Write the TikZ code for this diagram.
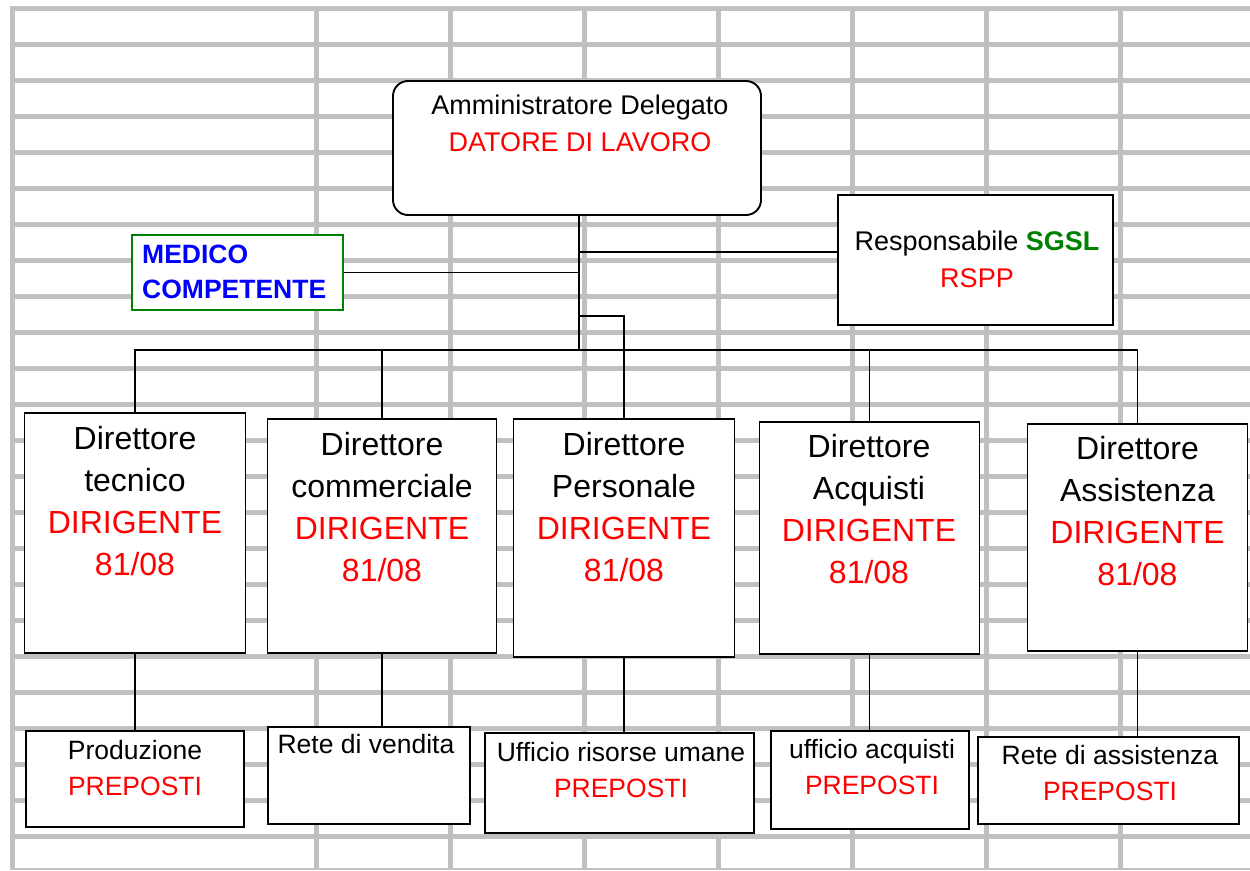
\documentclass[tikz,border=0pt]{standalone}
\usepackage{fontspec}
\setmainfont{Liberation Sans}
\definecolor{gridgray}{RGB}{192,192,192}
\definecolor{sgreen}{RGB}{0,128,0}
\definecolor{sred}{RGB}{255,0,0}
\definecolor{sblue}{RGB}{0,0,255}
\begin{document}
\begin{tikzpicture}[x=1pt,y=-1pt,
  gridline/.style={draw=gridgray,line width=5pt},
  box/.style={draw=black,line width=1.9pt,fill=white,inner sep=0pt},
  conn/.style={draw=black,line width=1.8pt},
  trunkline/.style={draw=black,line width=2.4pt},
  dirtext/.style={anchor=base,align=center,inner sep=0pt,font=\fontsize{32}{42}\selectfont},
  midtext/.style={anchor=base,align=center,inner sep=0pt,font=\fontsize{27}{36.5}\selectfont},
  subtext/.style={anchor=base,align=center,inner sep=0pt,font=\fontsize{26.5}{36}\selectfont}]
\useasboundingbox (0,0) rectangle (1250,870);
% spreadsheet grid
\foreach \y in {8,44,...,836} \draw[gridline] (10,\y) -- (1250,\y);
\draw[draw=gridgray,line width=2.5pt] (10,869) -- (1250,869);
\foreach \x in {12,316,450,584,718,852,986,1120} \draw[gridline] (\x,6) -- (\x,870);
% boxes
\node[box,rounded corners=15pt,minimum width=368pt,minimum height=134pt] (top) at (577,148) {};
\node[box,draw=sgreen,minimum width=211pt,minimum height=75pt] (med) at (237.5,272.5) {};
\node[box,minimum width=275pt,minimum height=130pt] (rspp) at (975.5,260) {};
\node[box,minimum width=221pt,minimum height=240pt] (tec) at (135,533) {};
\node[box,minimum width=229pt,minimum height=234pt] (com) at (382,536) {};
\node[box,minimum width=221pt,minimum height=238pt] (per) at (624,538) {};
\node[box,minimum width=220pt,minimum height=232pt] (acq) at (869.5,538) {};
\node[box,minimum width=220pt,minimum height=227pt] (ass) at (1137.5,537.5) {};
\node[box,minimum width=218pt,minimum height=96pt] (pro) at (135,779) {};
\node[box,minimum width=202pt,minimum height=97pt] (ven) at (369,775.5) {};
\node[box,minimum width=269pt,minimum height=100pt] (ris) at (619.5,783) {};
\node[box,minimum width=198pt,minimum height=98pt] (uac) at (870,780) {};
\node[box,minimum width=261pt,minimum height=87pt] (ras) at (1108.5,780.5) {};
% texts (anchor = baseline of the last line)
\node[midtext] (topT) at (580,151) {Amministratore Delegato\\\textcolor{sred}{DATORE DI LAVORO}};
\node[midtext] (rsppT) at (977,287) {Responsabile \textcolor{sgreen}{\bfseries SGSL}\\\textcolor{sred}{RSPP}};
\node[anchor=base west,align=left,inner sep=0pt,text=sblue,font=\fontsize{26.5}{35}\selectfont\bfseries] (medT) at (142,298) {MEDICO\\COMPETENTE};
\node[dirtext] (tecT) at (135,575) {Direttore\\tecnico\\\textcolor{sred}{DIRIGENTE}\\\textcolor{sred}{81/08}};
\node[dirtext] (comT) at (382,581) {Direttore\\commerciale\\\textcolor{sred}{DIRIGENTE}\\\textcolor{sred}{81/08}};
\node[dirtext] (perT) at (624,581) {Direttore\\Personale\\\textcolor{sred}{DIRIGENTE}\\\textcolor{sred}{81/08}};
\node[dirtext] (acqT) at (869,583) {Direttore\\Acquisti\\\textcolor{sred}{DIRIGENTE}\\\textcolor{sred}{81/08}};
\node[dirtext] (assT) at (1137.5,585) {Direttore\\Assistenza\\\textcolor{sred}{DIRIGENTE}\\\textcolor{sred}{81/08}};
\node[subtext] (proT) at (135,795) {Produzione\\\textcolor{sred}{PREPOSTI}};
\node[subtext] (venT) at (366,753) {Rete di vendita};
\node[subtext] (risT) at (621,797) {Ufficio risorse umane\\\textcolor{sred}{PREPOSTI}};
\node[subtext] (uacT) at (872,794) {ufficio acquisti\\\textcolor{sred}{PREPOSTI}};
\node[subtext] (rasT) at (1110,800) {Rete di assistenza\\\textcolor{sred}{PREPOSTI}};
% connectors
\coordinate (j) at (579,350);
\draw[trunkline] (top.south -| j) -- (j);
\draw[conn] (med.east) -- (med.east -| j);
\draw[conn] (rspp.west |- 0,252) -- (j |- 0,252);
\draw[conn] (j |- 0,316) -| (per.north);
\draw[trunkline] (j) -| (tec.north);
\draw[conn] (j) -| (com.north);
\draw[conn] (j) -| (acq.north);
\draw[conn] (j) -| (ass.north);
\draw[conn] (tec.south) -- (tec.south |- pro.north);
\draw[conn] (com.south) -- (com.south |- ven.north);
\draw[conn] (per.south) -- (per.south |- ris.north);
\draw[conn] (acq.south) -- (acq.south |- uac.north);
\draw[conn] (ass.south) -- (ass.south |- ras.north);
\end{tikzpicture}
\end{document}
